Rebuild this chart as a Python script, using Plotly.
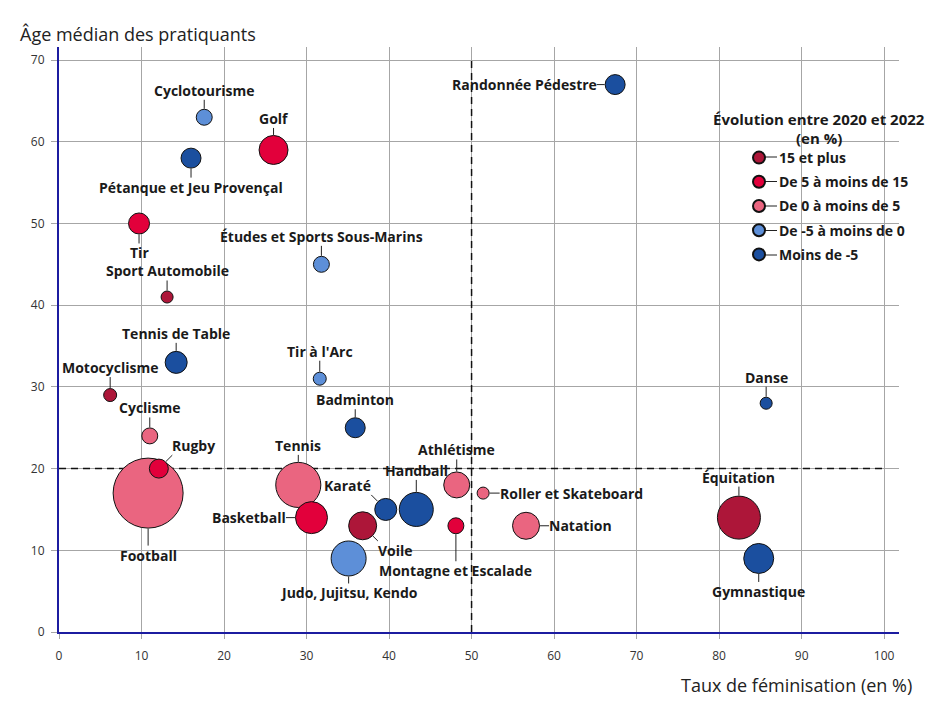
import math
import plotly.graph_objects as go

# ---------------- Data ----------------
sports = [
    "Randonnée Pédestre", "Cyclotourisme", "Golf", "Pétanque et Jeu Provençal", "Tir",
    "Études et Sports Sous-Marins", "Sport Automobile", "Tennis de Table", "Tir à l'Arc",
    "Motocyclisme", "Danse", "Badminton", "Cyclisme", "Rugby", "Football", "Tennis",
    "Athlétisme", "Roller et Skateboard", "Karaté", "Handball", "Basketball", "Équitation",
    "Voile", "Montagne et Escalade", "Natation", "Gymnastique", "Judo, Jujitsu, Kendo",
]
feminisation = [67.4, 17.6, 26.0, 16.0, 9.7, 31.8, 13.1, 14.2, 31.6, 6.2, 85.7, 35.9, 11.0,
                12.1, 10.8, 29.0, 48.2, 51.4, 39.6, 43.3, 30.6, 82.4, 36.8, 48.1, 56.6, 84.8, 35.1]
age_median = [67, 63, 59, 58, 50, 45, 41, 33, 31, 29, 28, 25, 24, 20, 17, 18, 18, 17, 15, 15,
              14, 14, 13, 13, 13, 9, 9]
licences = [163, 104, 343, 163, 180, 104, 59, 198, 69, 69, 59, 163, 104, 147, 2000, 830, 276,
            59, 198, 472, 418, 755, 320, 104, 298, 367, 500]  # milliers (taille des bulles)
evolution = [
    "Moins de -5", "De -5 à moins de 0", "De 5 à moins de 15", "Moins de -5", "De 5 à moins de 15",
    "De -5 à moins de 0", "15 et plus", "Moins de -5", "De -5 à moins de 0", "15 et plus",
    "Moins de -5", "Moins de -5", "De 0 à moins de 5", "De 5 à moins de 15", "De 0 à moins de 5",
    "De 0 à moins de 5", "De 0 à moins de 5", "De 0 à moins de 5", "Moins de -5", "Moins de -5",
    "De 5 à moins de 15", "15 et plus", "15 et plus", "De 5 à moins de 15", "De 0 à moins de 5",
    "Moins de -5", "De -5 à moins de 0",
]
categories = ["15 et plus", "De 5 à moins de 15", "De 0 à moins de 5", "De -5 à moins de 0", "Moins de -5"]
x_ticks = [0, 10, 20, 30, 40, 50, 60, 70, 80, 90, 100]
y_ticks = [0, 10, 20, 30, 40, 50, 60, 70]

# ---------------- Styling ----------------
colors = {
    "15 et plus": "#AD1639",
    "De 5 à moins de 15": "#E2003B",
    "De 0 à moins de 5": "#EA6580",
    "De -5 à moins de 0": "#5D8FD8",
    "Moins de -5": "#1B4F9F",
}
draw_order = ["De 0 à moins de 5", "De 5 à moins de 15", "15 et plus", "De -5 à moins de 0", "Moins de -5"]

# label placement: (direction, gap in px between circle edge and text box)
placement = {
    "Randonnée Pédestre": ("left", 8),
    "Cyclotourisme": ("top", 9),
    "Golf": ("top", 7),
    "Pétanque et Jeu Provençal": ("bottom", 9),
    "Tir": ("bottom", 9),
    "Études et Sports Sous-Marins": ("top", 10),
    "Sport Automobile": ("top", 10),
    "Tennis de Table": ("top", 8),
    "Tir à l'Arc": ("top", 11),
    "Motocyclisme": ("top", 11),
    "Danse": ("top", 10),
    "Badminton": ("top", 8),
    "Cyclisme": ("top", 10),
    "Rugby": ("ne", 9),
    "Football": ("bottom", 17),
    "Tennis": ("top", 7),
    "Athlétisme": ("top", 12),
    "Roller et Skateboard": ("right", 10),
    "Karaté": ("nw", 9),
    "Handball": ("top", 12),
    "Basketball": ("left", 9),
    "Équitation": ("top", 9),
    "Voile": ("se", 7),
    "Montagne et Escalade": ("bottom", 27),
    "Natation": ("right", 9),
    "Gymnastique": ("bottom", 8),
    "Judo, Jujitsu, Kendo": ("bottom", 7),
}

FONT = "Open Sans"
MAX_D = 70
sizeref = 2 * max(licences) / MAX_D ** 2

fig = go.Figure()
for cat in draw_order:
    idx = [i for i, e in enumerate(evolution) if e == cat]
    fig.add_trace(go.Scatter(
        x=[feminisation[i] for i in idx],
        y=[age_median[i] for i in idx],
        text=[sports[i] for i in idx],
        mode="markers",
        name=cat,
        legendgroup=cat,
        legendrank=categories.index(cat) + 1,
        marker=dict(size=[licences[i] for i in idx], sizemode="area", sizeref=sizeref,
                    color=colors[cat], opacity=1, line=dict(color="#111111", width=1)),
        hovertemplate="%{text}<br>Féminisation : %{x} %<br>Âge médian : %{y}<extra></extra>",
    ))

s2 = math.sqrt(0.5)
for i, s in enumerate(sports):
    r = math.sqrt(licences[i] / max(licences)) * MAX_D / 2 + 0.5
    pos, gap = placement[s]
    d = r + gap
    if pos == "top":
        g = dict(ax=0, ay=-d, xanchor="center", yanchor="bottom")
    elif pos == "bottom":
        g = dict(ax=0, ay=d, xanchor="center", yanchor="top")
    elif pos == "left":
        g = dict(ax=-d, ay=0, xanchor="right", yanchor="middle")
    elif pos == "right":
        g = dict(ax=d, ay=0, xanchor="left", yanchor="middle")
    elif pos == "ne":
        g = dict(ax=d * s2, ay=-d * s2, xanchor="left", yanchor="bottom")
    elif pos == "nw":
        g = dict(ax=-d * s2, ay=-d * s2, xanchor="right", yanchor="bottom")
    else:  # se
        g = dict(ax=d * s2, ay=d * s2, xanchor="left", yanchor="top")
    fig.add_annotation(
        x=feminisation[i], y=age_median[i], text=s, showarrow=True, arrowhead=0,
        arrowwidth=1, arrowcolor="#222222", standoff=r, borderpad=0, borderwidth=0,
        font=dict(family=FONT, size=14, color="#1a1a1a", weight=700), **g,
    )

# axis titles and legend title
fig.add_annotation(xref="paper", yref="paper", x=-0.0464, y=1.0222, xanchor="left", yanchor="middle",
                   text="Âge médian des pratiquants", showarrow=False, borderpad=0, borderwidth=0,
                   font=dict(family=FONT, size=18, color="#222222"))
fig.add_annotation(xref="paper", yref="paper", x=1.0155, y=-0.0906, xanchor="right", yanchor="middle",
                   text="Taux de féminisation (en %)", showarrow=False, borderpad=0, borderwidth=0,
                   font=dict(family=FONT, size=18, color="#222222"))
legend_title_lines = ["Évolution entre 2020 et 2022", "(en %)"]
legend_title_py = [119, 137.5]
for txt, py in zip(legend_title_lines, legend_title_py):
    fig.add_annotation(xref="paper", yref="paper", x=(819 - 59) / 840, y=(632 - py) / 585,
                       xanchor="center", yanchor="middle", text=txt, showarrow=False,
                       borderpad=0, borderwidth=0,
                       font=dict(family=FONT, size=15, color="#1a1a1a", weight=700))

# reference lines (parité, 20 ans)
fig.add_shape(type="line", x0=50, x1=50, y0=0, y1=70, xref="x", yref="y", layer="between",
              line=dict(color="#111111", width=1.5, dash="7px,5px"))
fig.add_shape(type="line", x0=0, x1=100, y0=20, y1=20, xref="x", yref="y", layer="between",
              line=dict(color="#111111", width=1.5, dash="7px,5px"))

# little dashes between legend markers and texts
legend_item_py = [157, 181.5, 206, 230.5, 255]
for py in legend_item_py:
    yp = (632 - py) / 585
    fig.add_shape(type="line", xref="paper", yref="paper", x0=(765 - 59) / 840, x1=(777 - 59) / 840,
                  y0=yp, y1=yp, line=dict(color="#222222", width=1))

fig.update_layout(
    width=928, height=711,
    margin=dict(l=59, r=29, t=47, b=79),
    paper_bgcolor="white", plot_bgcolor="white",
    font=dict(family=FONT, size=12, color="#333333"),
    showlegend=True,
    legend=dict(x=(739 - 59) / 840, y=(632 - 142) / 585, xanchor="left", yanchor="top",
                bgcolor="rgba(0,0,0,0)", borderwidth=0, itemsizing="constant",
                tracegroupgap=3, font=dict(family=FONT, size=14, color="#1a1a1a", weight=700)),
    xaxis=dict(range=[0, 101.8], tickvals=x_ticks, showgrid=True, gridcolor="#a6a6a6", gridwidth=1,
               zeroline=False, showline=True, linecolor="#1c1ca0", linewidth=2, ticks="outside",
               ticklen=5, tickcolor="#a6a6a6", ticklabelstandoff=7,
               tickfont=dict(family=FONT, size=12, color="#333333")),
    yaxis=dict(range=[0, 71.6], tickvals=y_ticks, showgrid=True, gridcolor="#a6a6a6", gridwidth=1,
               zeroline=False, showline=True, linecolor="#1c1ca0", linewidth=2, ticks="outside",
               ticklen=6, tickcolor="#a6a6a6", ticklabelstandoff=4,
               tickfont=dict(family=FONT, size=12, color="#333333")),
)

fig.write_html("out.html", config={"displayModeBar": False},
               post_script="document.body.style.margin='0px';")
